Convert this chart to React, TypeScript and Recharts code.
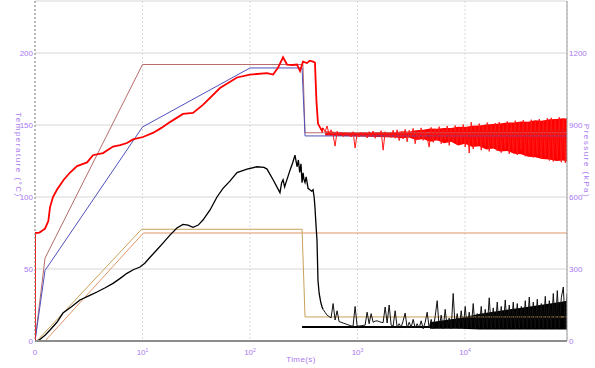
import { ComposedChart, Line, Area, XAxis, YAxis, CartesianGrid } from "recharts";

// temps en s (échelle log), températures en °C, pressions en kPa
const xTicks = [1, 10, 100, 1000, 10000];
const xTickLabels = ["0", "1", "2", "3", "4"];
const tempTicks = [0, 50, 100, 150, 200];
const pressTicks = [0, 300, 600, 900, 1200];

// consignes
const brownSet: [number, number][] = [[1, 0], [1.24, 57.6], [10, 192], [311, 192], [325, 144.6], [88900, 144.6]];
const blueSet: [number, number][] = [[1, 0], [1.24, 49], [10, 148.6], [100, 189.6], [305, 189.6], [325, 142.4], [88900, 142.4]];
const tanSet: [number, number][] = [[1.04, 0], [9.8, 77.6], [305, 77.6], [325, 16.7], [88900, 16.7]];
const orangeSet: [number, number][] = [[1.24, 0], [10.2, 75], [88900, 75]];
const blackSet: [number, number][] = [[305, 9.7], [88900, 9.7]];

// mesure rouge (kPa), montée
const redMain: [number, number][] = [
  [1, 0], [1.001, 450], [1.1, 452], [1.24, 468], [1.33, 500], [1.38, 558], [1.47, 600], [1.6, 630],
  [1.85, 672], [2.12, 702], [2.46, 729], [2.8, 738], [3.05, 744], [3.46, 774], [4.29, 783], [5.32, 810],
  [6.2, 816], [7.17, 825], [8.16, 840], [10.1, 850], [12.5, 867], [15, 888], [18, 912], [23.8, 946],
  [29.5, 950], [36.5, 984], [52.6, 1054], [75.7, 1098], [100, 1110], [144, 1116], [164, 1110],
  [182, 1138], [203, 1182], [221, 1152], [250, 1150], [274, 1152], [292, 1125], [311, 1164],
  [339, 1158], [360, 1168], [386, 1164], [402, 1160], [415, 1000], [429, 906], [448, 890], [468, 875], [478, 888],
];

// mesure noire (°C), montée et chute
const blackMain: [number, number][] = [
  [1, 0], [1.04, 0], [1.11, 1], [1.24, 4], [1.38, 7.6], [1.6, 13], [1.82, 19.4], [2.2, 24], [2.62, 28.5],
  [3.2, 31.5], [3.77, 34], [4.5, 37], [5.32, 40], [6.2, 43.5], [7.17, 47], [8.2, 49.5], [9.48, 51.4],
  [10.5, 54], [11.7, 58], [13.5, 63], [15.5, 68], [18, 73.5], [20.9, 78.5], [23.8, 81], [26.5, 80.5],
  [29.5, 79], [33, 80.5], [36.5, 84], [42.5, 91], [49.3, 100], [56.1, 106], [65, 111], [75.7, 117],
  [93.8, 119.4], [116, 121], [135, 120.5], [144, 119.4], [164, 112], [190, 103], [197, 110], [203, 112],
  [210, 107], [216, 110], [225, 114], [236, 118.8], [250, 124], [262, 129], [268, 125], [274, 121],
  [282, 125.7], [290, 117], [298, 123], [305, 110], [312, 116.7], [318, 112], [325, 110], [333, 114],
  [347, 106], [360, 105], [375, 104], [386, 105], [395, 100], [402, 93], [410, 82], [420, 70], [429, 42],
  [440, 33], [455, 27], [468, 23.6], [478, 22],
];

// partie bruitée (temps communs aux deux mesures)
const noiseTimes = [
  478, 499, 521, 544, 568, 593, 619, 646, 674, 704,
  735, 767, 800, 835, 872, 910, 950, 992, 1035, 1081,
  1128, 1177, 1229, 1283, 1339, 1398, 1459, 1523, 1590, 1659,
  1732, 1808, 1887, 1970, 2056, 2146, 2240, 2338, 2441, 2548,
  2659, 2776, 2897, 3024, 3157, 3295, 3439, 3590, 3747, 3911,
  4083, 4262, 4448, 4643, 4847, 5059, 5281, 5512, 5754, 6006,
  6269, 6544, 6830, 7130, 7442, 7768, 8108, 8463, 8834, 9221,
  9625, 10047, 10487, 10946, 11426, 11926, 12449, 12994, 13563, 14158,
  14778, 15426, 16101, 16807, 17543, 18312, 19114, 19952, 20826, 21738,
  22690, 23685, 24722, 25806, 26936, 28117, 29349, 30635, 31977, 33378,
  34841, 36368, 37961, 39625, 41361, 43174, 45066, 47040, 49102, 51254,
  53500, 55844, 58291, 60846, 63512, 66295, 69201, 72233, 75398, 78702,
  82151, 85751, 88900,
];
const redNoise = [
  888, 872, 896, 860, 880, 858, 812, 874, 856, 870,
  852, 868, 856, 866, 850, 872, 804, 866, 850, 870,
  855, 868, 846, 872, 852, 875, 845, 868, 858, 876,
  795, 872, 850, 866, 848, 878, 845, 880, 835, 870,
  842, 882, 830, 878, 850, 886, 822, 872, 840, 888,
  836, 876, 845, 808, 890, 828, 884, 836, 893, 822,
  880, 840, 896, 815, 886, 830, 898, 818, 888, 826,
  902, 808, 892, 783, 912, 800, 896, 815, 906, 795,
  900, 812, 910, 790, 898, 805, 908, 792, 912, 785,
  900, 800, 915, 780, 906, 790, 918, 775, 912, 795,
  920, 770, 910, 782, 922, 765, 915, 778, 925, 760,
  918, 770, 928, 752, 930, 748, 922, 760, 932, 745,
  926, 742, 930,
];
const blackNoise = [
  22, 20, 18, 17, 16, 26, 14.6, 21, 13.5, 13,
  12.5, 12, 11.5, 11, 10.5, 10.4, 24, 10.4, 10.4, 10.6,
  10.8, 11, 20, 12, 19, 13, 13.8, 14, 13.5, 13,
  12.8, 23.6, 12.5, 25, 11, 10.4, 21, 9.5, 12, 9.5,
  14, 19.4, 9, 13, 9.5, 15, 9, 12, 9, 14,
  8.5, 13, 20, 9, 15, 8.5, 17, 28, 9, 18,
  8.5, 22, 9, 16, 8.5, 33, 9, 19, 8.5, 21,
  9, 24, 8.5, 20, 9, 26, 8.5, 19, 9, 24,
  8.5, 22, 9, 30, 8.5, 23, 9, 27, 8.5, 24,
  9, 28.5, 8.5, 25, 9, 27, 8.5, 26, 9, 24,
  8.5, 28, 9, 30.5, 8.5, 27, 9, 29, 8.5, 26,
  9, 31, 8.5, 28, 9, 33, 8.5, 35, 9, 30,
  37.5, 8.5, 33,
];

// cœur dense du bruit [t, bas, haut]
const redBand: [number, number, number][] = [
  [500, 856, 874], [700, 854, 870], [1000, 852, 869], [1500, 850, 870],
  [2240, 848, 870], [2620, 845, 874], [3000, 848, 872], [3500, 838, 878], [4090, 842, 880],
  [4726, 830, 885], [5500, 836, 884], [6400, 824, 888], [7430, 830, 888], [8640, 815, 893],
  [10000, 822, 892], [11700, 808, 897], [13600, 812, 898], [15800, 798, 902], [18300, 802, 904],
  [21200, 790, 906], [24700, 792, 910], [28700, 780, 910], [33300, 778, 915], [38700, 768, 914],
  [45000, 766, 920], [52300, 758, 918], [60800, 756, 924], [70700, 750, 925], [82200, 752, 928],
  [88900, 748, 926],
];
const blackBand: [number, number, number][] = [
  [4726, 8.5, 13], [8980, 8.5, 16], [13790, 8, 19], [21180, 8, 21], [32510, 8, 23],
  [49910, 8, 25], [76620, 8, 27], [88900, 8, 28],
];

const pts = (a: [number, number][]) => a.map(([t, v]) => ({ t, v }));
const zip = (ts: number[], vs: number[]) => ts.map((t, i) => ({ t, v: vs[i] })).filter((d) => d.v !== undefined);
const band = (a: [number, number, number][]) => a.map(([t, lo, hi]) => ({ t, r: [lo, hi] }));

const purple = "#a878f0";
const font = "'Liberation Sans', Arial, sans-serif";

const XTick = (props: any) => {
  const { x, y, payload } = props;
  const i = xTicks.indexOf(payload.value);
  return (
    <text x={x} y={y + 14} textAnchor="middle" fontSize={8} fill={purple} fontFamily={font}>
      {i === 0 ? "0" : (
        <>
          <tspan>10</tspan>
          <tspan dy={-3} fontSize={5}>{xTickLabels[i]}</tspan>
        </>
      )}
    </text>
  );
};

const VTitle = (props: any) => {
  const { viewBox, text, rx, dy } = props;
  const x = viewBox.x + rx;
  const y = viewBox.y + viewBox.height / 2 + dy;
  return (
    <text x={x} y={y} transform={`rotate(90 ${x} ${y})`} textAnchor="middle" dominantBaseline="central"
      fontSize={8} letterSpacing={1.5} fill={purple} fontFamily={font}>
      {text}
    </text>
  );
};

const HTitle = (props: any) => {
  const { viewBox } = props;
  return (
    <text x={viewBox.x + viewBox.width / 2} y={viewBox.y + 21} textAnchor="middle"
      fontSize={8} letterSpacing={0.4} fill={purple} fontFamily={font}>
      Time(s)
    </text>
  );
};

export default function App() {
  return (
    <div style={{ position: "absolute", left: 0, top: 0, width: 595, height: 368, background: "#fff" }}>
      <ComposedChart width={595} height={368} margin={{ top: 1, right: 0, bottom: 0, left: 0 }}>
        <CartesianGrid yAxisId="T" vertical={false} stroke="#d6d6d6" />
        <CartesianGrid yAxisId="T" horizontal={false} stroke="#dadada" strokeDasharray="2 2" />
        <XAxis dataKey="t" type="number" scale="log" domain={[1, 88900]} allowDataOverflow ticks={xTicks}
          height={27} tickSize={0} tickMargin={0} tick={<XTick />} stroke="#8c8c8c" strokeWidth={2}
          label={<HTitle />} />
        <YAxis yAxisId="T" orientation="left" type="number" domain={[0, 236.1]} allowDataOverflow ticks={tempTicks}
          width={35} tickSize={0} tickMargin={2} stroke="#888" strokeDasharray="2 2"
          tick={{ fill: purple, fontSize: 8, fontFamily: font }}
          label={<VTitle text="Temperature (°C)" rx={18} dy={-16} />} />
        <YAxis yAxisId="p" orientation="right" type="number" domain={[0, 1416.7]} allowDataOverflow ticks={pressTicks}
          width={28} tickSize={0} tickMargin={2} stroke="#999"
          tick={{ fill: purple, fontSize: 8, fontFamily: font, textAnchor: "start" }}
          label={<VTitle text="Pressure (kPa)" rx={19} dy={-10} />} />

        <Line yAxisId="T" data={pts(orangeSet)} dataKey="v" stroke="#e0956a" strokeWidth={1} dot={false} isAnimationActive={false} />
        <Line yAxisId="T" data={pts(tanSet)} dataKey="v" stroke="#c9a25a" strokeWidth={1} dot={false} isAnimationActive={false} />
        <Line yAxisId="T" data={pts(brownSet)} dataKey="v" stroke="#b86c6c" strokeWidth={1} dot={false} isAnimationActive={false} />
        <Line yAxisId="T" data={pts(blueSet)} dataKey="v" stroke="#5050bb" strokeWidth={1} dot={false} isAnimationActive={false} />
        <Line yAxisId="T" data={pts(blackSet)} dataKey="v" stroke="#000" strokeWidth={2} dot={false} isAnimationActive={false} />

        <Area yAxisId="T" data={band(blackBand)} dataKey="r" stroke="none" fill="#000" fillOpacity={1} isAnimationActive={false} />
        <Line yAxisId="T" data={zip(noiseTimes, blackNoise)} dataKey="v" stroke="#111" strokeWidth={1} dot={false} isAnimationActive={false} />
        <Line yAxisId="T" data={pts(blackMain)} dataKey="v" stroke="#000" strokeWidth={1.3} dot={false} isAnimationActive={false} />

        <Area yAxisId="p" data={band(redBand)} dataKey="r" stroke="none" fill="#ff0000" fillOpacity={1} isAnimationActive={false} />
        <Line yAxisId="p" data={zip(noiseTimes, redNoise)} dataKey="v" stroke="#ff1a1a" strokeWidth={1} dot={false} isAnimationActive={false} />
        <Line yAxisId="p" data={pts(redMain)} dataKey="v" stroke="#ff0000" strokeWidth={1.8} dot={false} isAnimationActive={false} />
      </ComposedChart>
    </div>
  );
}
